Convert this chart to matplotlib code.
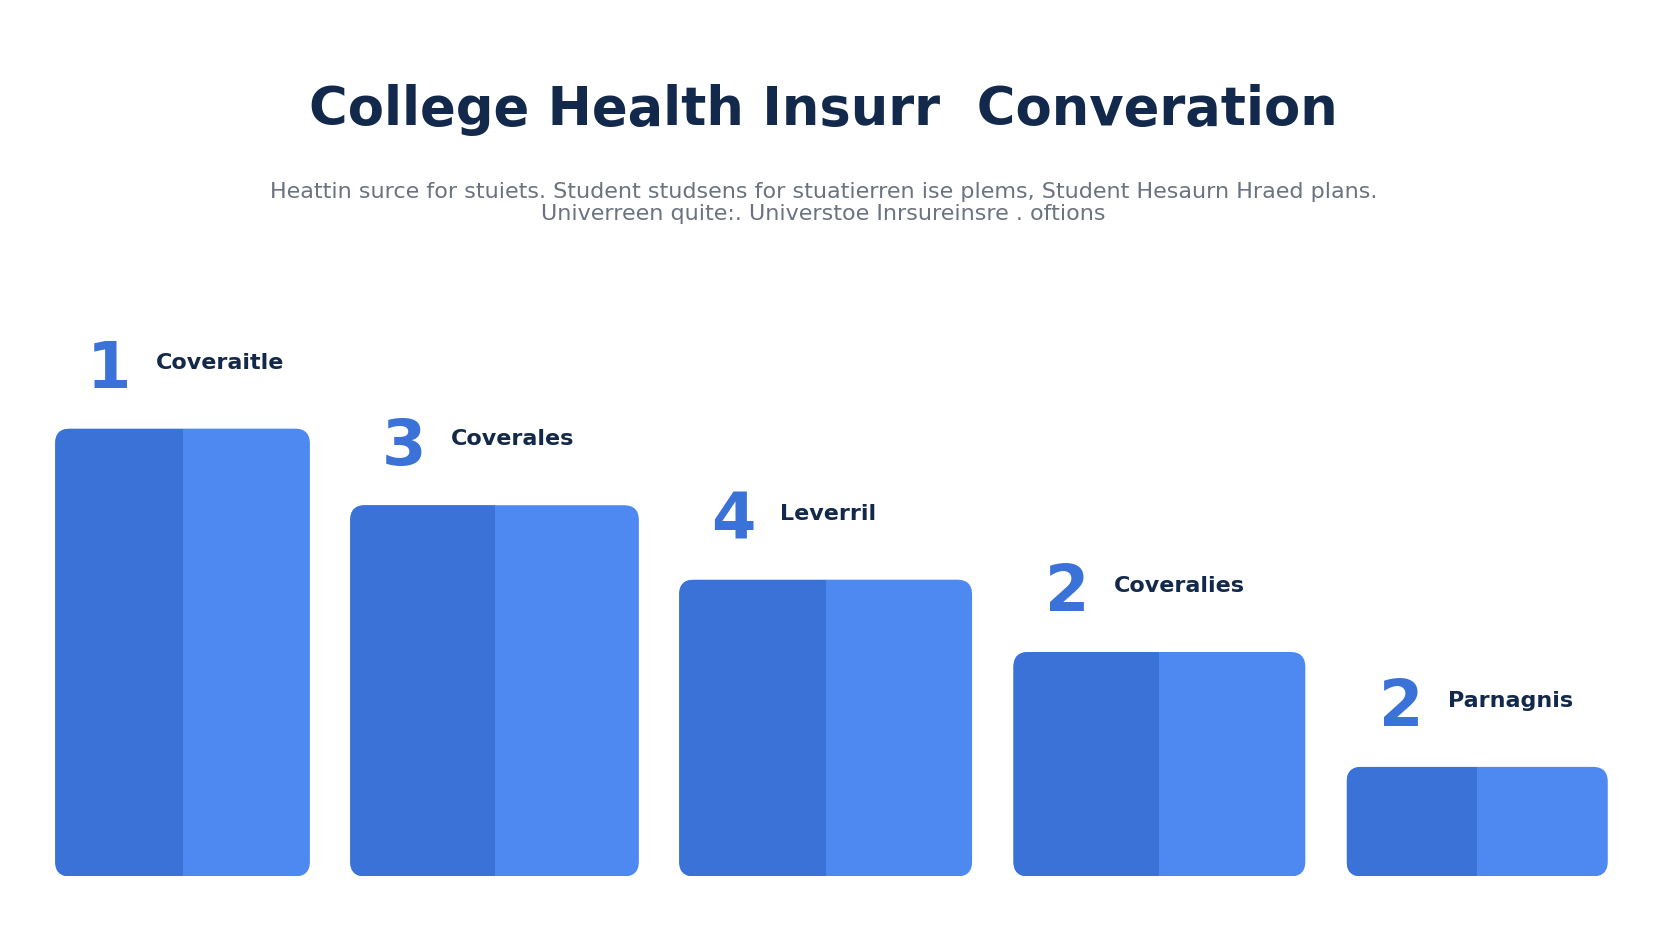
import matplotlib
matplotlib.use("Agg")
import matplotlib.pyplot as plt
from matplotlib.patches import FancyBboxPatch, Rectangle

# data
ranks = ["1", "3", "4", "2", "2"]
labels = ["Coveraitle", "Coverales", "Leverril", "Coveralies", "Parnagnis"]
values = [421, 349, 279, 211, 103]
lefts = [0, 278, 588, 903, 1217]
widths = [240, 272, 276, 275, 246]

title = "College Health Insurr  Converation"
subtitle = ("Heattin surce for stuiets. Student studsens for stuatierren ise plems, Student Hesaurn Hraed plans.\n"
            "Univerreen quite:. Universtoe Inrsureinsre . oftions")

dark = "#3A72D8"
light = "#4D89F0"
navy = "#13294B"

fig = plt.figure(figsize=(16.64, 9.36), dpi=100)
fig.patch.set_facecolor("white")
ax = fig.add_axes([52 / 1568, 1 - 824 / 880, 1463 / 1568, 524 / 880])
ax.set_xlim(0, 1463)
ax.set_ylim(0, 524)
ax.axis("off")

for rk, lab, v, x0, w in zip(ranks, labels, values, lefts, widths):
    r = 14
    box = FancyBboxPatch((x0 + r, r), w - 2 * r, v - 2 * r,
                         boxstyle="round,pad=%d" % r, fc=light, ec="none")
    ax.add_patch(box)
    half = Rectangle((x0, 0), w / 2, v, fc=dark, ec="none")
    ax.add_patch(half)
    half.set_clip_path(box)
    ax.text(x0 + 30, v + 26, rk, color="#3A72D8", fontsize=46,
            fontweight="bold", ha="left", va="bottom", clip_on=False)
    ax.text(x0 + 95, v + 62, lab, color=navy, fontsize=16,
            fontweight="bold", ha="left", va="center", clip_on=False)

fig.text(0.495, 0.883, title, ha="center", va="center", fontsize=38,
         fontweight="bold", color=navy)
fig.text(0.495, 0.783, subtitle, ha="center", va="center", fontsize=16,
         color="#6B7280", linespacing=1.1)

fig.savefig("out.png", dpi=100, facecolor="white")
